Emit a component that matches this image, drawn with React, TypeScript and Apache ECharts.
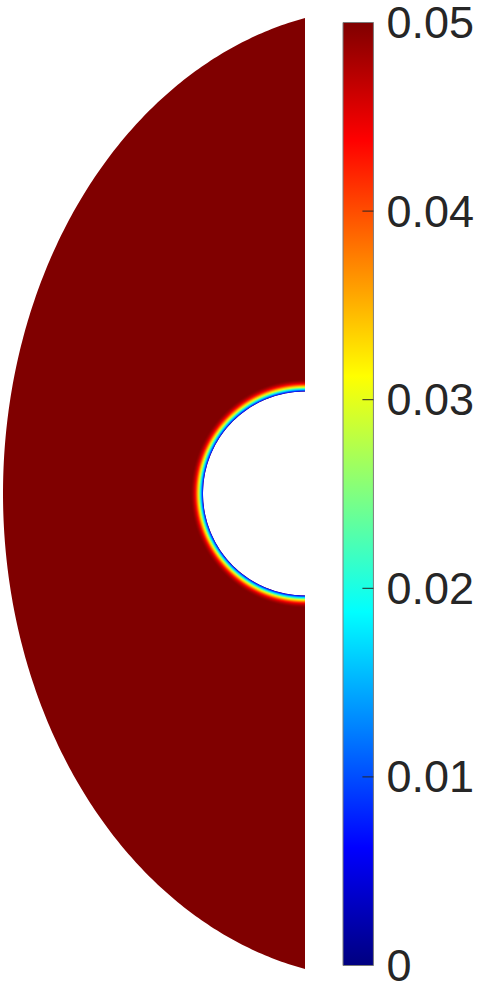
import React, { useEffect, useRef } from 'react';
import * as echarts from 'echarts';

// ---- domain geometry (data units, hole radius = 1) ----
const holeRadius = 1.0;
const outerCenterX = 0.775;
const outerSemiX = 3.735;
const outerSemiY = 4.765;
const xRange = [-2.96, 0];
const yRange = [-4.661, 4.661];

// ---- radial boundary-layer profile around the hole ----
const wallDistance = [0, 0.01, 0.02, 0.03, 0.04, 0.05, 0.06, 0.07, 0.08, 0.09, 0.1, 0.11, 0.12];
const wallValue = [0.006, 0.011, 0.017, 0.023, 0.029, 0.034, 0.038, 0.042, 0.045, 0.047, 0.0485, 0.0495, 0.05];
const farFieldValue = 0.05;

// ---- colorbar ----
const cbMin = 0;
const cbMax = 0.05;
const cbStep = 0.01;
const cbTicks = [0, 0.01, 0.02, 0.03, 0.04, 0.05];
const cbTickLabels = ['0', '0.01', '0.02', '0.03', '0.04', '0.05'];

const clamp01 = (v: number) => Math.max(0, Math.min(1, v));
function jet(t: number): string {
  t = clamp01(t);
  const r = clamp01(1.5 - Math.abs(4 * t - 3));
  const g = clamp01(1.5 - Math.abs(4 * t - 2));
  const b = clamp01(1.5 - Math.abs(4 * t - 1));
  return `rgb(${Math.round(r * 255)},${Math.round(g * 255)},${Math.round(b * 255)})`;
}

export default function App() {
  const ref = useRef<HTMLDivElement>(null);
  useEffect(() => {
    if (!ref.current) return;
    const chart = echarts.init(ref.current, undefined, { renderer: 'svg' });

    const jetStops: any[] = [];
    for (let i = 0; i <= 32; i++) {
      jetStops.push({ offset: i / 32, color: jet(i / 32) });
    }

    const option: any = {
      animation: false,
      backgroundColor: '#ffffff',
      grid: [
        { left: 3, width: 302, top: 18, height: 951 },
        { left: 343, width: 31, top: 17, height: 953 },
      ],
      xAxis: [
        { type: 'value', gridIndex: 0, min: xRange[0], max: xRange[1], show: false },
        { type: 'value', gridIndex: 1, min: 0, max: 1, show: false },
      ],
      yAxis: [
        { type: 'value', gridIndex: 0, min: yRange[0], max: yRange[1], show: false },
        {
          type: 'value',
          gridIndex: 1,
          min: cbMin,
          max: cbMax,
          interval: cbStep,
          position: 'right',
          z: 10,
          axisLine: { show: false },
          splitLine: { show: false },
          axisTick: { show: false },
          axisLabel: {
            show: true,
            fontSize: 45,
            lineHeight: 38,
            color: '#262626',
            fontFamily: 'Liberation Sans, Arial, Helvetica, sans-serif',
            margin: 13,
            showMinLabel: true,
            showMaxLabel: true,
            formatter: (v: number) => cbTickLabels[Math.round((v - cbMin) / cbStep)] ?? '',
          },
        },
      ],
      series: [
        {
          type: 'custom',
          xAxisIndex: 0,
          yAxisIndex: 0,
          silent: true,
          z: 1,
          data: [[0, 0]],
          renderItem: (_params: any, api: any) => {
            const pts: number[][] = [];
            const th0 = Math.acos(-outerCenterX / outerSemiX);
            const th1 = 2 * Math.PI - th0;
            const N = 300;
            for (let i = 0; i <= N; i++) {
              const th = th0 + ((th1 - th0) * i) / N;
              pts.push(api.coord([outerCenterX + outerSemiX * Math.cos(th), outerSemiY * Math.sin(th)]));
            }
            const M = 150;
            for (let i = 0; i <= M; i++) {
              const ph = 1.5 * Math.PI - (Math.PI * i) / M;
              pts.push(api.coord([holeRadius * Math.cos(ph), holeRadius * Math.sin(ph)]));
            }
            return {
              type: 'polygon',
              shape: { points: pts },
              style: { fill: jet(farFieldValue / cbMax) },
            };
          },
        },
        {
          type: 'custom',
          xAxisIndex: 0,
          yAxisIndex: 0,
          silent: true,
          z: 2,
          data: [[0, 0]],
          renderItem: (_params: any, api: any) => {
            const c = api.coord([0, 0]);
            const s = api.size([1, 1]);
            const ppu = (s[0] + s[1]) / 2;
            const dLast = wallDistance[wallDistance.length - 1];
            const r0 = holeRadius * ppu;
            const r1 = (holeRadius + dLast) * ppu;
            const stops = wallDistance.map((d, i) => ({
              offset: (holeRadius + d) / (holeRadius + dLast),
              color: jet(wallValue[i] / cbMax),
            }));
            return {
              type: 'sector',
              shape: {
                cx: c[0],
                cy: c[1],
                r0,
                r: r1,
                startAngle: Math.PI / 2,
                endAngle: (3 * Math.PI) / 2,
                clockwise: true,
              },
              style: {
                fill: { type: 'radial', x: c[0], y: c[1], r: r1, colorStops: stops, global: true },
              },
            };
          },
        },
        {
          type: 'custom',
          xAxisIndex: 1,
          yAxisIndex: 1,
          silent: true,
          z: 2,
          data: [[0, 0]],
          renderItem: (_params: any, api: any) => {
            const p0 = api.coord([0, cbMax]);
            const p1 = api.coord([1, cbMin]);
            const children: any[] = [
              {
                type: 'rect',
                shape: { x: p0[0], y: p0[1], width: p1[0] - p0[0], height: p1[1] - p0[1] },
                style: {
                  fill: { type: 'linear', x: 0, y: 1, x2: 0, y2: 0, colorStops: jetStops },
                  stroke: '#7a7a7a',
                  lineWidth: 1,
                },
              },
            ];
            cbTicks.forEach((t) => {
              if (t <= cbMin || t >= cbMax) return;
              const p = api.coord([1, t]);
              children.push({
                type: 'line',
                shape: { x1: p[0] - 11, y1: p[1], x2: p[0], y2: p[1] },
                style: { stroke: '#262626', lineWidth: 1 },
              });
            });
            return { type: 'group', children };
          },
        },
      ],
    };
    chart.setOption(option);
    return () => chart.dispose();
  }, []);

  return (
    <div
      ref={ref}
      style={{ position: 'absolute', left: 0, top: 0, width: 477, height: 988, background: '#fff' }}
    />
  );
}
